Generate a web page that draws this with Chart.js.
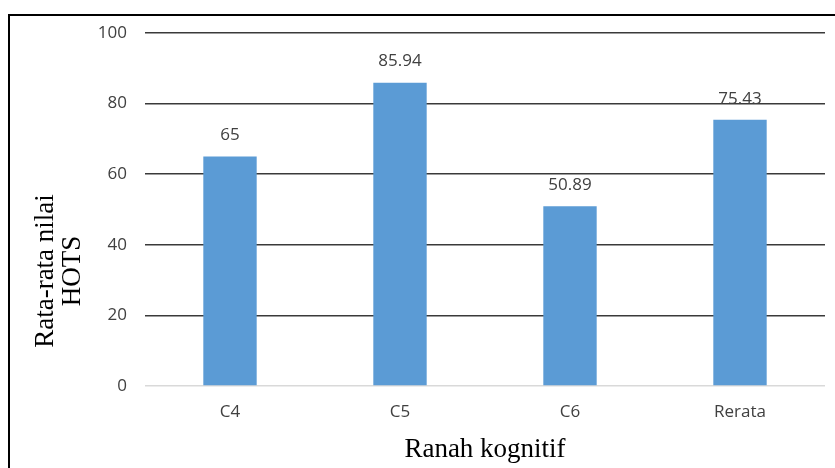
<!DOCTYPE html>
<html>

<head>
    <title>Rata-rata nilai HOTS</title>
    <meta charset="UTF-8">
    <script src="https://cdn.jsdelivr.net/npm/chart.js@4.4.1/dist/chart.umd.min.js"></script>
    <style>
        body { margin: 0; background: #fff; }
    </style>
</head>

<body>

<canvas id="hotsChart" width="835" height="468"></canvas>

<script>

    // data
    var categories = ["C4", "C5", "C6", "Rerata"];
    var nilai = [65, 85.94, 50.89, 75.43];
    var nilaiText = ["65", "85.94", "50.89", "75.43"];
    var yTitle = ["Rata-rata nilai", "HOTS"];
    var xTitle = "Ranah kognitif";

    var sansFont = "'Open Sans', Lato, sans-serif";
    var serifFont = "'Liberation Serif', 'Times New Roman', serif";

    // outer frame, partly cut off at right and bottom
    var framePlugin = {
        id: "frame",
        afterDraw: function (chart) {
            var ctx = chart.ctx;
            ctx.save();
            ctx.strokeStyle = "#000";
            ctx.lineWidth = 2;
            ctx.strokeRect(9, 15, 900, 500);
            ctx.restore();
        }
    };

    // value labels above the bars
    var valueLabels = {
        id: "valueLabels",
        afterDatasetsDraw: function (chart) {
            var ctx = chart.ctx;
            var meta = chart.getDatasetMeta(0);
            ctx.save();
            ctx.font = "17px " + sansFont;
            ctx.fillStyle = "#404040";
            ctx.textAlign = "center";
            ctx.textBaseline = "middle";
            meta.data.forEach(function (bar, i) {
                ctx.fillText(nilaiText[i], bar.x, bar.y - 21);
            });
            ctx.restore();
        }
    };

    // y title sits lower than the plot centre, so it is drawn here
    var yTitlePlugin = {
        id: "yTitle",
        afterDraw: function (chart) {
            var ctx = chart.ctx;
            ctx.save();
            ctx.font = "27px " + serifFont;
            ctx.fillStyle = "#000";
            ctx.textAlign = "center";
            ctx.textBaseline = "alphabetic";
            var xs = [53, 80];
            yTitle.forEach(function (line, i) {
                ctx.save();
                ctx.translate(xs[i], 271);
                ctx.rotate(-Math.PI / 2);
                ctx.fillText(line, 0, 0);
                ctx.restore();
            });
            ctx.restore();
        }
    };

    new Chart(document.getElementById("hotsChart"), {
        type: "bar",
        data: {
            labels: categories,
            datasets: [{
                label: "Rata-rata nilai HOTS",
                data: nilai,
                backgroundColor: "#5B9BD5",
                borderWidth: 0,
                categoryPercentage: 1,
                barPercentage: 0.314
            }]
        },
        options: {
            responsive: false,
            animation: false,
            layout: { padding: { top: 33, right: 10, left: 0, bottom: 0 } },
            plugins: {
                legend: { display: false },
                tooltip: { enabled: false }
            },
            scales: {
                x: {
                    afterFit: function (scale) { scale.height = 82; },
                    grid: { display: false, drawTicks: false },
                    border: { display: false },
                    ticks: {
                        color: "#404040",
                        font: { family: sansFont, size: 17 },
                        padding: 16
                    },
                    title: {
                        display: true,
                        text: xTitle,
                        color: "#000",
                        font: { family: serifFont, size: 27 },
                        padding: { top: 0, bottom: 2 }
                    }
                },
                y: {
                    min: 0,
                    max: 100,
                    afterFit: function (scale) { scale.width = 145; },
                    grid: {
                        drawTicks: false,
                        lineWidth: 1.5,
                        color: function (c) {
                            return c.tick && c.tick.value === 0 ? "#d9d9d9" : "#3a3a3a";
                        }
                    },
                    border: { display: false },
                    ticks: {
                        stepSize: 20,
                        color: "#404040",
                        font: { family: sansFont, size: 17 },
                        padding: 18
                    }
                }
            }
        },
        plugins: [framePlugin, valueLabels, yTitlePlugin]
    });
</script>

</body>

</html>
